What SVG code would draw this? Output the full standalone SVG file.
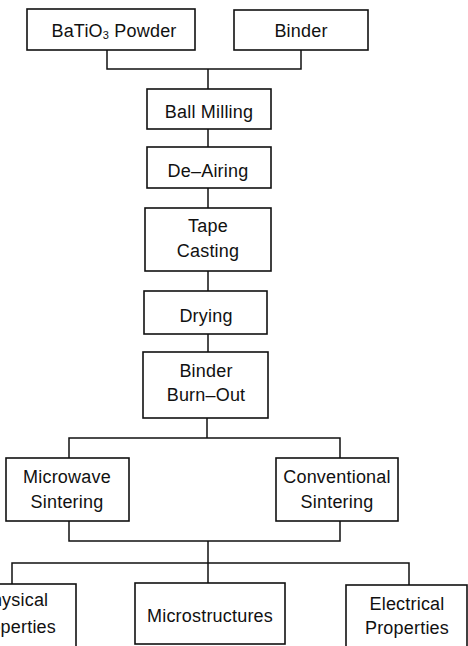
<svg xmlns="http://www.w3.org/2000/svg" width="468" height="646" viewBox="0 0 468 646">
<style>
.box{fill:#fff;stroke:#111;stroke-width:1.6}
.ln{fill:none;stroke:#111;stroke-width:1.5}
text{font-family:"Liberation Sans",Arial,sans-serif;font-size:18px;fill:#111;text-anchor:middle;letter-spacing:0.2px}
</style>
<rect width="468" height="646" fill="#fff"/>
<g id="connectors">
<path class="ln" d="M107 50V69H301V50M208 69V89"/>
<path class="ln" d="M208 129V147M208 188V208M208 271V291M208 334V352"/>
<path class="ln" d="M207 418V438M69 458V438H340V458"/>
<path class="ln" d="M69 521V541H340V521M208 541V583M12 584V563H409V585"/>
</g>
<g id="n-batio3"><rect class="box" x="27" y="9" width="168" height="41"/><text x="114" y="37">BaTiO<tspan font-size="11" dy="2">3</tspan><tspan dy="-2"> Powder</tspan></text></g>
<g id="n-binder"><rect class="box" x="234" y="10" width="134" height="40"/><text x="301" y="37">Binder</text></g>
<g id="n-ballmilling"><rect class="box" x="147" y="89" width="124" height="40"/><text x="209" y="118">Ball Milling</text></g>
<g id="n-deairing"><rect class="box" x="147" y="147" width="124" height="41"/><text x="208" y="177">De–Airing</text></g>
<g id="n-tapecasting"><rect class="box" x="145" y="208" width="126" height="63"/><text x="208" y="232">Tape</text><text x="208" y="257">Casting</text></g>
<g id="n-drying"><rect class="box" x="144" y="291" width="123" height="43"/><text x="206" y="322">Drying</text></g>
<g id="n-burnout"><rect class="box" x="143" y="352" width="125" height="66"/><text x="206" y="377">Binder</text><text x="206" y="401">Burn–Out</text></g>
<g id="n-microwave"><rect class="box" x="6" y="458" width="123" height="63"/><text x="67" y="483">Microwave</text><text x="67" y="508">Sintering</text></g>
<g id="n-conventional"><rect class="box" x="276" y="458" width="122" height="63"/><text x="337" y="483">Conventional</text><text x="337" y="508">Sintering</text></g>
<g id="n-physical"><rect class="box" x="-48" y="584" width="124" height="70"/><text x="14" y="606">Physical</text><text x="14" y="633">Properties</text></g>
<g id="n-micro"><rect class="box" x="135" y="583" width="150" height="61"/><text x="210" y="622">Microstructures</text></g>
<g id="n-electrical"><rect class="box" x="346" y="585" width="121" height="70"/><text x="407" y="610">Electrical</text><text x="407" y="634">Properties</text></g>
</svg>
